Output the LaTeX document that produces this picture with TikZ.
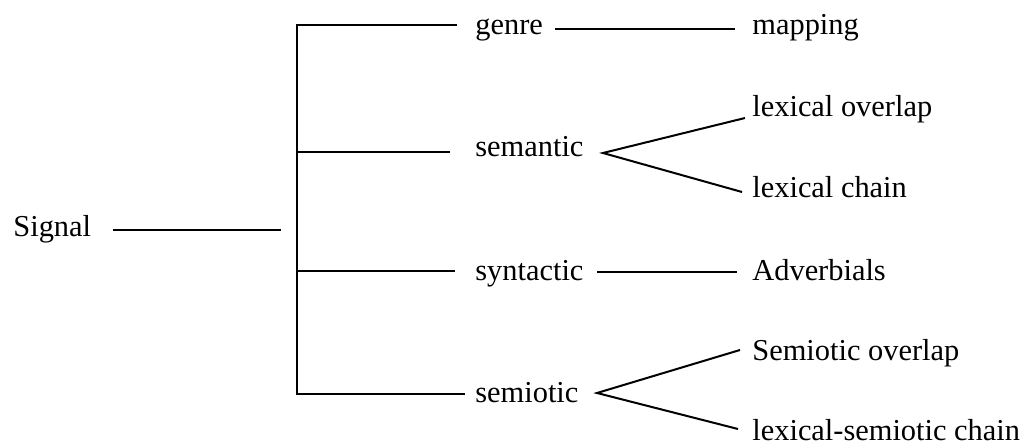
\documentclass[tikz,border=0pt]{standalone}
\usepackage{fontspec}
\setmainfont{Liberation Serif}
\begin{document}
\begin{tikzpicture}[x=0.5pt,y=-0.5pt,
  lbl/.style={anchor=base west,inner sep=0pt,font=\fontsize{15.2}{18}\selectfont},
  conn/.style={line width=1pt,line join=miter}]
\useasboundingbox (0,0) rectangle (1025,443);
% texts
\node[lbl] (signal) at (13,237) {Signal};
\node[lbl] (genre) at (475,35) {genre};
\node[lbl] (semantic) at (475,157) {semantic};
\node[lbl] (syntactic) at (475,281) {syntactic};
\node[lbl] (semiotic) at (475,403) {semiotic};
\node[lbl] (mapping) at (752,35) {mapping};
\node[lbl] (lexov) at (752,117) {lexical overlap};
\node[lbl] (lexch) at (752,198) {lexical chain};
\node[lbl] (adv) at (752,281) {Adverbials};
\node[lbl] (semov) at (752,361) {Semiotic overlap};
\node[lbl] (lsc) at (752,441) {lexical-semiotic chain};
% junction points
\coordinate (sigE) at (113,230);
\coordinate (sigT) at (281,230);
\coordinate (vTop) at (297,25);
\coordinate (vSem) at (297,152);
\coordinate (vSyn) at (297,271);
\coordinate (vBot) at (297,394);
\coordinate (gIn) at (457,25);
\coordinate (smIn) at (450,152);
\coordinate (syIn) at (455,271);
\coordinate (soIn) at (465,394);
\coordinate (gOut) at (555,29);
\coordinate (mIn) at (735,29);
\coordinate (smApex) at (603,153);
\coordinate (loIn) at (745,118);
\coordinate (lcIn) at (742,192);
\coordinate (syOut) at (597,272);
\coordinate (advIn) at (737,272);
\coordinate (soApex) at (597,393);
\coordinate (sovIn) at (740,350);
\coordinate (lscIn) at (738,429);
% connectors
\draw[conn] (sigE) -- (sigT);
\draw[conn] (gIn) -- (vTop) -- (vBot) -- (soIn);
\draw[conn] (vSem) -- (smIn);
\draw[conn] (vSyn) -- (syIn);
\draw[conn] (gOut) -- (mIn);
\draw[conn] (loIn) -- (smApex) -- (lcIn);
\draw[conn] (syOut) -- (advIn);
\draw[conn] (sovIn) -- (soApex) -- (lscIn);
\end{tikzpicture}
\end{document}
